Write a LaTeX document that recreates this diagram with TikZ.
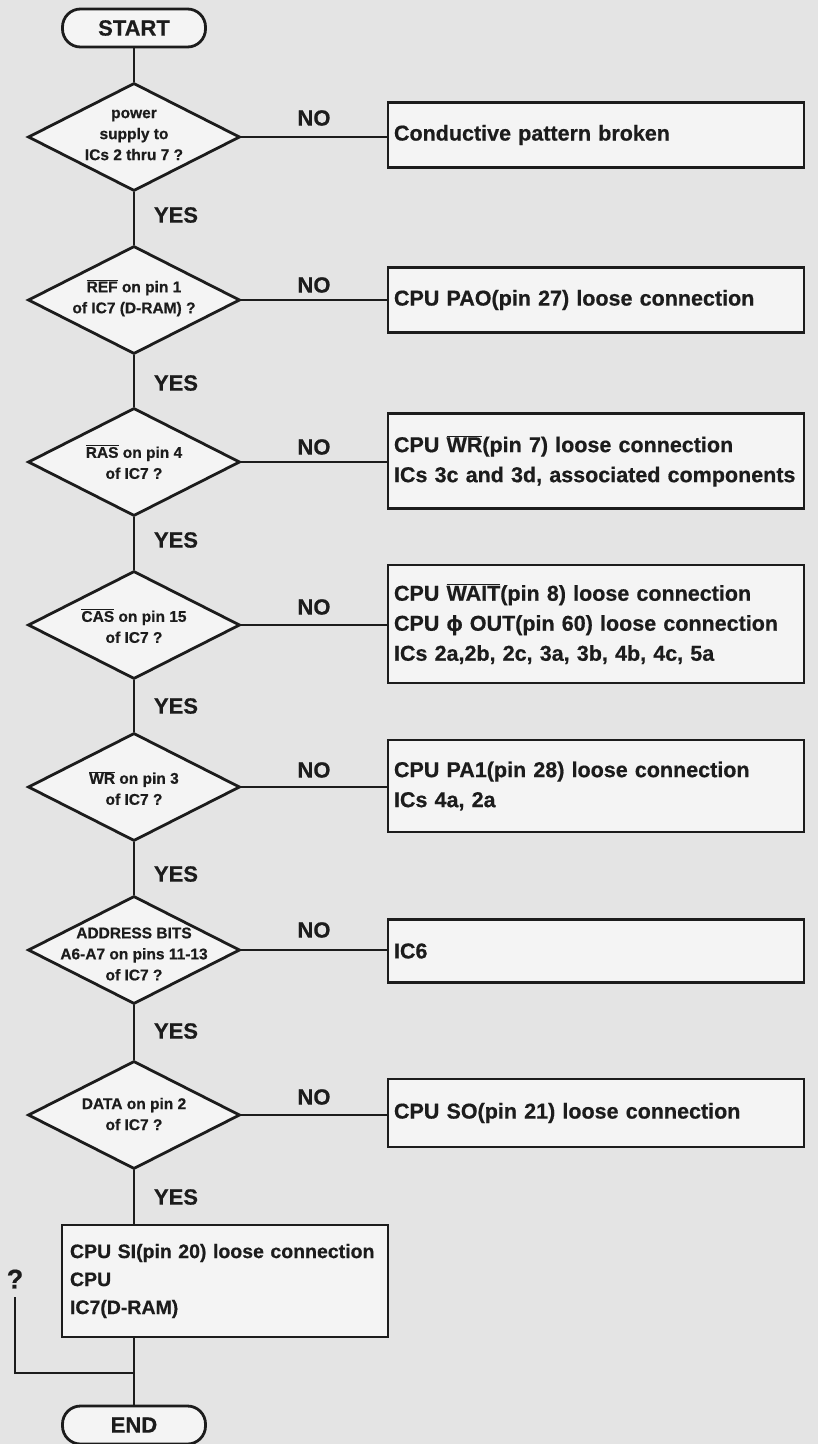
\documentclass[tikz,border=0pt]{standalone}
\usepackage{fontspec}
\setmainfont{Liberation Sans}[BoldFeatures={FakeBold=0.6}]
\usetikzlibrary{shapes.geometric}
\definecolor{ink}{HTML}{1C1C1C}
\definecolor{paper}{HTML}{E4E4E4}
\definecolor{panel}{HTML}{F4F4F4}
\newcommand\ovl[1]{$\overline{\mbox{#1}}$}
\hyphenpenalty=10000
\begin{document}
\begin{tikzpicture}[x=1pt,y=-1pt,
  flow/.style={draw=ink,line width=2.8pt},
  term/.style={draw=ink,line width=2.8pt,fill=panel,rounded corners=18pt,
    minimum width=143pt,minimum height=38pt,inner sep=0pt,
    font=\fontsize{22}{24}\selectfont\bfseries,text=ink},
  decision/.style={diamond,draw=ink,line width=2.8pt,fill=panel,
    minimum width=212pt,minimum height=108pt,inner sep=0pt},
  dtext/.style={align=center,inner sep=0pt,text=ink,
    font=\fontsize{15.5}{21}\selectfont\bfseries},
  result/.style={draw=ink,line width=2.8pt,fill=panel,minimum width=416pt,
    text width=404pt,align=left,inner sep=0pt,text=ink,
    font=\fontsize{21.5}{30}\selectfont\bfseries},
  yes/.style={text=ink,inner sep=0pt,font=\fontsize{22}{24}\selectfont\bfseries},
]
\useasboundingbox (0,0) rectangle (818,1444);
\fill[paper] (0,0) rectangle (818,1444);

% terminals
\node[term] (start) at (134,28) {START};
\node[term] (end) at (134,1425) {END};

% decisions
\node[decision] (d1) at (134,137) {};
\node[dtext] (t1) at (134,135) {power\\supply to\\ICs 2 thru 7 ?};
\node[decision] (d2) at (134,300) {};
\node[dtext] (t2) at (134,298) {\ovl{REF} on pin 1\\of IC7 (D-RAM) ?};
\node[decision] (d3) at (134,462) {};
\node[dtext] (t3) at (134,462) {\ovl{RAS} on pin 4\\of IC7 ?};
\node[decision] (d4) at (134,625) {};
\node[dtext] (t4) at (134,626) {\ovl{CAS} on pin 15\\of IC7 ?};
\node[decision] (d5) at (134,787) {};
\node[dtext] (t5) at (134,788) {\ovl{WR} on pin 3\\of IC7 ?};
\node[decision] (d6) at (134,950) {};
\node[dtext] (t6) at (134,954) {ADDRESS BITS\\A6-A7 on pins 11-13\\of IC7 ?};
\node[decision] (d7) at (134,1115) {};
\node[dtext] (t7) at (134,1114) {DATA on pin 2\\of IC7 ?};

% results
\node[result,minimum height=65pt] (b1) at (596,135) {Conductive pattern broken};
\node[result,minimum height=65pt] (b2) at (596,300) {CPU PAO(pin 27) loose connection};
\node[result,minimum height=95pt] (b3) at (596,461) {CPU \ovl{WR}(pin 7) loose connection\\ICs 3c and 3d, associated components};
\node[result,minimum height=118pt] (b4) at (596,624) {CPU \ovl{WAIT}(pin 8) loose connection\\CPU ϕ OUT(pin 60) loose connection\\ICs 2a,2b, 2c, 3a, 3b, 4b, 4c, 5a};
\node[result,minimum height=92pt] (b5) at (596,786) {CPU PA1(pin 28) loose connection\\ICs 4a, 2a};
\node[result,minimum height=63pt] (b6) at (596,951) {IC6};
\node[result,minimum height=68pt] (b7) at (596,1113) {CPU SO(pin 21) loose connection};
\node[result,minimum width=326pt,text width=310pt,minimum height=112pt,
  font=\fontsize{19.5}{28}\selectfont\bfseries] (b8) at (225,1281)
  {CPU SI(pin 20) loose connection\\CPU\\IC7(D-RAM)};

% main line
\draw[flow] (start) -- (d1);
\foreach \a/\b in {d1/d2,d2/d3,d3/d4,d4/d5,d5/d6,d6/d7}
  \draw[flow] (\a.south) -- (\b.north);
\draw[flow] (d7.south) -- (d7.south |- b8.north);
\draw[flow] (d7.south |- b8.south) -- (end.north);

% branches to the results
\foreach \i in {1,...,7}
  \draw[flow] (d\i.east) -- (d\i.east -| b\i.west);

% branch labels
\foreach \i/\y in {1/118,2/285,3/447,4/607,5/770,6/930,7/1097}
  \node[yes] (no\i) at (314,\y) {NO};
\foreach \i/\y in {1/215,2/383,3/540,4/706,5/874,6/1031,7/1197}
  \node[yes] (yes\i) at (176,\y) {YES};

% unresolved return path
\coordinate (qtop) at (15,1297);
\coordinate (join) at (134,1373);
\node[yes,font=\fontsize{27}{28}\selectfont\bfseries] (qmark) at (15,1279) {?};
\draw[flow] (qtop) |- (join);
\end{tikzpicture}
\end{document}
